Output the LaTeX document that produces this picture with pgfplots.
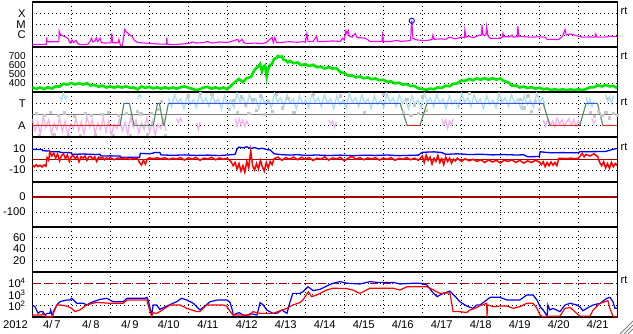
\documentclass[border=0pt]{standalone}
\usepackage{fontspec}
\setmainfont{Liberation Sans}
\usepackage{pgfplots}
\pgfplotsset{compat=1.18}
\definecolor{xmag}{RGB}{255,0,255}
\definecolor{swgreen}{RGB}{0,230,0}
\definecolor{cyanpt}{RGB}{168,224,247}
\definecolor{pinkpt}{RGB}{245,178,240}
\definecolor{graypt}{RGB}{200,200,200}
\definecolor{stepgreen}{RGB}{80,140,90}
\definecolor{stepblue}{RGB}{60,80,230}
\definecolor{stepred}{RGB}{225,40,40}
\definecolor{darkred}{RGB}{170,0,0}
\definecolor{midgray}{RGB}{128,128,128}
\newcommand\tickfont{\fontsize{11.2bp}{12bp}\selectfont}
\newcommand\smalltickfont{\fontsize{10bp}{10bp}\selectfont}
\pgfplotsset{
  panel/.style={
    at={(32.3bp,#1)}, anchor=north west, scale only axis,
    width=585bp, height=45bp,
    xmin=0, xmax=15, xtick={1,...,14}, xticklabels={},
    xmajorgrids, ymajorgrids,
    major tick length=0pt, minor tick length=0pt,
    grid style={black, line width=0.9bp, dash pattern=on 0.9bp off 3.1bp},
    axis line style={black, line width=1.3bp},
    yticklabel style={font=\tickfont, anchor=east, inner sep=0pt, xshift=-6.5bp},
  }
}
\begin{document}
\begin{tikzpicture}
\useasboundingbox (0,0) rectangle (633bp,-334bp);

% ---------- Panel 1: X-ray ----------
\begin{axis}[panel=-2bp, ymin=-7.12, ymax=-2.90,
  ytick={-6,-5,-4}, yticklabels={C,M,X}]
\addplot[xmag, line width=1.1bp] coordinates {
(0.00,-6.87)(0.36,-6.87)(0.37,-6.22)(0.38,-6.63)(0.68,-6.63)(0.69,-5.63)(0.72,-5.95)(0.80,-6.10)(0.85,-6.16)(0.92,-6.35)(0.97,-6.75)(1.02,-6.47)(1.06,-6.70)(1.12,-6.50)(1.18,-6.85)(1.30,-6.90)(1.43,-6.85)(1.48,-6.60)(1.52,-6.30)(1.55,-6.65)(1.61,-6.55)(1.64,-6.25)(1.68,-6.60)(1.74,-6.30)(1.77,-6.70)(1.86,-6.75)(2.02,-6.72)(2.04,-5.84)(2.06,-6.72)(2.20,-6.72)(2.22,-6.40)(2.24,-6.72)(2.27,-7.03)(2.31,-7.00)(2.37,-5.47)(2.41,-5.70)(2.47,-5.90)(2.55,-6.10)(2.62,-6.50)(2.70,-6.70)(2.89,-6.75)(3.09,-6.80)(3.27,-6.85)(3.44,-6.85)(3.45,-6.22)(3.46,-6.85)(3.60,-6.90)(3.80,-6.85)(4.00,-6.80)(4.10,-6.65)(4.20,-6.75)(4.40,-6.70)(4.50,-6.60)(4.60,-6.75)(4.80,-6.65)(5.00,-6.70)(5.10,-6.60)(5.27,-6.40)(5.30,-6.65)(5.38,-6.40)(5.42,-6.70)(5.50,-6.80)(5.70,-6.75)(5.90,-6.80)(6.00,-6.70)(6.15,-6.22)(6.18,-6.70)(6.22,-6.22)(6.26,-6.70)(6.40,-6.68)(6.60,-6.62)(6.80,-6.68)(6.94,-6.62)(7.00,-6.65)(7.04,-5.84)(7.07,-6.60)(7.20,-6.60)(7.29,-6.10)(7.32,-6.60)(7.50,-6.60)(7.70,-6.55)(7.90,-6.60)(7.95,-6.30)(8.00,-6.45)(8.04,-5.60)(8.07,-5.90)(8.10,-5.55)(8.13,-6.10)(8.20,-6.20)(8.28,-5.85)(8.32,-6.20)(8.40,-6.25)(8.55,-6.30)(8.66,-6.60)(8.97,-6.60)(8.98,-5.69)(9.00,-6.60)(9.20,-6.60)(9.35,-6.50)(9.45,-6.60)(9.60,-6.55)(9.70,-6.50)(9.73,-4.66)(9.76,-6.30)(9.85,-6.45)(10.00,-6.50)(10.15,-6.50)(10.25,-6.40)(10.27,-6.00)(10.30,-6.40)(10.50,-6.35)(10.60,-6.40)(10.70,-6.20)(10.85,-6.35)(10.95,-6.25)(11.00,-6.20)(11.08,-6.25)(11.09,-5.53)(11.12,-6.20)(11.20,-6.10)(11.30,-6.25)(11.40,-6.10)(11.48,-6.00)(11.52,-6.00)(11.53,-5.06)(11.56,-6.00)(11.63,-6.00)(11.65,-5.20)(11.68,-6.05)(11.74,-6.30)(11.85,-6.31)(11.99,-6.30)(12.05,-6.20)(12.07,-5.84)(12.09,-6.16)(12.25,-6.16)(12.30,-6.00)(12.33,-6.20)(12.44,-6.16)(12.45,-5.16)(12.48,-6.10)(12.60,-6.16)(12.80,-6.20)(13.00,-6.16)(13.15,-6.20)(13.20,-6.40)(13.50,-6.42)(13.60,-6.10)(13.66,-5.47)(13.69,-6.00)(13.80,-5.90)(13.90,-6.00)(14.00,-6.10)(14.10,-6.20)(14.30,-6.18)(14.43,-6.20)(14.45,-5.90)(14.48,-6.20)(14.70,-6.20)(14.80,-6.10)(15.00,-6.15)};
\addplot[only marks, mark=o, mark size=2.6bp, blue, mark options={line width=0.9bp}] coordinates {(9.73,-4.66)};
\end{axis}

% ---------- Panel 2: solar wind speed ----------
\begin{axis}[panel=-47bp, ymin=300, ymax=800,
  ytick={400,500,600,700}, yticklabels={400,500,600,700},
  yticklabel style={font=\smalltickfont}]
\addplot[swgreen, line width=2.6bp] coordinates {
(0.0,352)(0.1,335)(0.2,350)(0.3,332)(0.4,352)(0.5,338)(0.6,362)(0.7,360)(0.8,392)(0.9,382)(1.0,400)(1.1,384)(1.2,398)(1.3,383)(1.4,398)(1.5,372)(1.6,378)(1.7,358)(1.8,371)(1.9,350)(2.0,364)(2.1,348)(2.2,362)(2.3,349)(2.4,363)(2.5,348)(2.6,350)(2.7,330)(2.8,360)(2.9,346)(3.0,358)(3.1,340)(3.2,352)(3.3,336)(3.4,352)(3.5,338)(3.6,350)(3.7,337)(3.8,352)(3.9,362)(4.0,348)(4.1,336)(4.2,320)(4.3,332)(4.4,350)(4.5,356)(4.6,337)(4.7,352)(4.8,336)(4.9,350)(5.0,330)(5.1,372)(5.2,410)(5.3,445)(5.4,410)(5.5,455)(5.6,465)(5.7,545)(5.75,567)(5.8,582)(5.84,610)(5.89,529)(5.93,580)(5.97,595)(6.01,473)(6.04,548)(6.1,600)(6.15,615)(6.2,670)(6.25,675)(6.3,700)(6.35,688)(6.4,695)(6.45,655)(6.5,652)(6.55,630)(6.6,645)(6.7,620)(6.8,628)(6.9,598)(7.0,610)(7.1,588)(7.2,602)(7.3,575)(7.4,582)(7.5,560)(7.6,577)(7.7,560)(7.8,565)(7.9,520)(8.0,510)(8.1,482)(8.2,484)(8.3,463)(8.4,472)(8.5,452)(8.6,462)(8.7,442)(8.8,450)(8.9,430)(9.0,436)(9.1,413)(9.2,418)(9.3,396)(9.4,403)(9.5,382)(9.6,388)(9.7,366)(9.8,368)(9.9,340)(10.0,336)(10.1,322)(10.2,338)(10.3,330)(10.4,352)(10.5,346)(10.6,370)(10.7,364)(10.8,392)(10.9,395)(11.0,428)(11.1,424)(11.2,445)(11.3,430)(11.4,452)(11.5,436)(11.6,454)(11.7,436)(11.8,452)(11.9,437)(12.0,450)(12.1,420)(12.2,410)(12.3,370)(12.4,372)(12.5,350)(12.6,360)(12.7,344)(12.8,354)(12.9,337)(13.0,348)(13.1,330)(13.2,338)(13.3,322)(13.4,331)(13.5,320)(13.6,331)(13.7,319)(13.8,330)(13.9,320)(14.0,331)(14.1,320)(14.2,333)(14.3,352)(14.4,352)(14.5,375)(14.6,362)(14.7,378)(14.8,362)(14.9,368)(15.0,344)};
\end{axis}

% ---------- Panel 3: T / A ----------
\begin{axis}[panel=-92bp, ymin=-1.06, ymax=3.03,
  ytick={0,2}, yticklabels={A,T}]
% cyan cloud
\addplot[cyanpt, line width=1.3bp] coordinates {
(3.49,2.5)(3.57,1.7)(3.65,2.8)(3.73,2.0)(3.81,2.4)(3.89,1.5)(3.97,2.7)(4.05,1.9)(4.13,2.3)(4.21,1.6)(4.29,2.9)(4.37,2.1)(4.45,2.5)(4.53,1.7)(4.61,2.8)(4.69,2.0)(4.77,2.4)(4.85,1.5)(4.93,2.7)(5.01,1.9)(5.09,2.3)(5.17,1.6)(5.25,2.9)(5.33,2.1)(5.41,2.5)(5.49,1.7)(5.57,2.8)(5.65,2.0)(5.73,2.4)(5.81,1.5)(5.89,2.7)(5.97,1.9)(6.05,2.3)(6.13,1.6)(6.21,2.9)(6.29,2.1)(6.37,2.5)(6.45,1.7)(6.53,2.8)(6.61,2.0)(6.69,2.4)(6.77,1.5)(6.85,2.7)(6.93,1.9)(7.01,2.3)(7.09,1.6)(7.17,2.9)(7.25,2.1)(7.33,2.5)(7.41,1.7)(7.49,2.8)(7.57,2.0)(7.65,2.4)(7.73,1.5)(7.81,2.7)(7.89,1.9)(7.97,2.3)(8.05,1.6)(8.13,2.9)(8.21,2.1)(8.29,2.5)(8.37,1.7)(8.45,2.8)(8.53,2.0)(8.61,2.4)(8.69,1.5)(8.77,2.7)(8.85,1.9)(8.93,2.3)(9.01,1.6)(9.09,2.9)(9.17,2.1)(9.25,2.5)(9.33,1.7)(9.41,2.8)(9.49,2.0)(9.57,2.4)(9.65,1.5)(9.73,2.7)(9.81,1.9)(9.89,2.3)(9.97,1.6)(10.05,2.9)(10.13,2.1)(10.21,2.5)(10.29,1.7)(10.37,2.8)(10.45,2.0)(10.53,2.4)(10.61,1.5)(10.69,2.7)(10.77,1.9)(10.85,2.3)(10.93,1.6)(11.01,2.9)(11.09,2.1)(11.17,2.5)(11.25,1.7)(11.33,2.8)(11.41,2.0)(11.49,2.4)(11.57,1.5)(11.65,2.7)(11.73,1.9)(11.81,2.3)(11.89,1.6)(11.97,2.9)(12.05,2.1)(12.13,2.5)(12.21,1.7)(12.29,2.8)(12.37,2.0)(12.45,2.4)(12.53,1.5)(12.61,2.7)(12.69,1.9)(12.77,2.3)(12.85,1.6)(12.93,2.9)(13.01,2.1)(13.09,2.5)(13.15,1.8)};
\addplot[cyanpt, line width=1.3bp] coordinates {(0.70,2.6)(0.75,2.3)(0.80,2.9)(0.85,2.4)(0.90,2.7)};
\addplot[cyanpt, line width=1.3bp] coordinates {(2.70,2.4)(2.75,2.8)(2.80,2.5)};
\addplot[cyanpt, line width=1.3bp] coordinates {(14.20,2.6)(14.25,1.9)(14.30,2.4)(14.35,1.7)(14.40,2.2)};
\addplot[cyanpt, line width=1.3bp] coordinates {(14.70,2.8)(14.75,2.2)(14.80,2.6)(14.85,2.0)(14.90,2.7)};
% pink cloud
\addplot[pinkpt, line width=1.3bp] coordinates {
(0.00,0.6)(0.07,-0.5)(0.14,0.3)(0.21,-0.8)(0.28,0.8)(0.35,-0.2)(0.42,0.5)(0.49,-0.7)(0.56,0.2)(0.63,-0.4)(0.70,0.7)(0.77,-0.6)(0.84,0.4)(0.91,-0.9)(0.98,0.1)(1.05,-0.3)(1.12,0.6)(1.19,-0.5)(1.26,0.3)(1.33,-0.8)(1.40,0.8)(1.47,-0.2)(1.54,0.5)(1.61,-0.7)(1.68,0.2)(1.75,-0.4)(1.82,0.7)(1.89,-0.6)(1.96,0.4)(2.03,-0.9)(2.10,0.1)(2.17,-0.3)(2.24,0.6)(2.31,-0.5)(2.38,0.3)(2.45,-0.8)(2.52,0.8)(2.59,-0.2)(2.66,0.5)(2.73,-0.7)(2.80,0.2)(2.87,-0.4)(2.94,0.7)(3.01,-0.6)(3.08,0.4)(3.15,-0.9)(3.22,0.1)(3.29,-0.3)(3.36,0.6)(3.43,-0.5)};
\addplot[pinkpt, line width=1.3bp] coordinates {(3.70,0.6)(3.75,0.2)(3.80,0.65)(3.85,0.3)};
\addplot[pinkpt, line width=1.3bp] coordinates {(4.22,0.2)(4.26,-0.4)(4.30,0.3)};
\addplot[pinkpt, line width=1.3bp] coordinates {(5.20,0.6)(5.25,-0.1)(5.30,0.6)(5.35,0.1)(5.40,0.5)(5.45,-0.1)(5.50,0.4)(5.55,0.0)};
\addplot[pinkpt, line width=1.3bp] coordinates {(7.60,0.5)(7.65,0.1)(7.70,0.4)(7.75,-0.2)(7.80,0.3)};
\addplot[pinkpt, line width=1.3bp] coordinates {(10.50,0.6)(10.55,0.0)(10.60,0.5)(10.65,-0.3)(10.70,0.4)(10.75,0.1)(10.80,0.6)};
\addplot[pinkpt, line width=1.3bp] coordinates {(13.10,0.5)(13.16,-0.1)(13.22,0.6)(13.28,0.0)(13.34,0.4)(13.40,-0.15)(13.46,0.65)(13.52,0.1)(13.58,0.5)(13.64,-0.1)(13.70,0.3)(13.76,0.6)(13.82,0.0)(13.88,0.5)(13.94,-0.1)(14.00,0.4)(14.06,0.1)};
\addplot[pinkpt, line width=1.3bp] coordinates {(14.35,0.6)(14.40,0.2)(14.45,0.5)};
% gray points
\addplot[only marks, mark=square*, mark size=1.1bp, graypt, mark options={draw=graypt, fill=graypt}] coordinates {
(0.10,1.1)(0.18,-0.9)(0.30,0.9)(0.45,1.2)(0.55,-0.8)(0.66,0.9)(0.82,1.15)(0.93,-0.95)(1.08,0.85)(1.22,-0.9)(1.36,1.1)(1.50,0.95)(1.62,-0.85)(1.78,1.0)(1.95,1.2)(2.08,-0.9)(2.20,0.9)(2.40,1.1)(2.52,-0.95)(2.68,1.3)(2.78,1.05)(2.95,-0.8)(3.05,1.1)(3.22,1.5)(3.30,2.2)(3.40,-0.9)
(4.0,2.7)(4.3,2.9)(4.6,2.8)(5.05,1.5)(5.15,2.3)(5.25,1.2)(5.35,2.6)(5.45,1.8)(5.55,1.1)(5.65,2.4)(5.75,1.4)(5.85,2.7)(5.95,1.0)(6.05,2.2)(6.15,1.3)(6.25,2.8)(6.40,1.6)(6.55,2.5)(6.70,1.2)(7.2,2.8)(7.9,2.7)(8.5,1.2)(9.0,2.8)(9.50,1.2)(9.60,2.4)(9.70,0.9)(9.80,1.8)(9.90,1.1)(10.00,2.6)(10.10,1.4)(11.2,2.9)(12.5,2.4)(12.6,1.6)(12.7,2.7)(12.8,1.3)(12.9,2.2)(13.0,1.5)(14.3,1.2)(14.4,0.8)(14.5,1.3)(14.6,0.9)(14.7,1.2)(14.75,2.5)(14.8,0.7)(14.9,1.1)(15.0,0.9)};
% gray mid line
\addplot[midgray, line width=1.4bp] coordinates {(0,1)(15,1)};
% step line
\addplot[stepgreen, line width=1.1bp] coordinates {
(0,0)(2.25,0)(2.35,2)(2.49,2)(2.61,0)(3.10,0)(3.21,2)(3.26,2)(3.36,0)(3.38,0)(3.49,2)(9.43,2)(9.61,0)(9.94,0)(10.12,2)(13.10,2)(13.27,0)(14.04,0)(14.20,2)(14.49,2)(14.63,0)(15,0)};
\addplot[stepblue, line width=1.1bp] coordinates {(2.35,2)(2.49,2)};
\addplot[stepblue, line width=1.1bp] coordinates {(3.21,2)(3.26,2)};
\addplot[stepblue, line width=1.1bp] coordinates {(3.49,2)(9.43,2)};
\addplot[stepblue, line width=1.1bp] coordinates {(10.12,2)(13.10,2)};
\addplot[stepblue, line width=1.1bp] coordinates {(14.20,2)(14.49,2)};
\addplot[stepred, line width=1.1bp] coordinates {(0,0)(2.25,0)};
\addplot[stepred, line width=1.1bp] coordinates {(9.61,0)(9.94,0)};
\addplot[stepred, line width=1.1bp] coordinates {(13.27,0)(14.04,0)};
\addplot[stepred, line width=1.1bp] coordinates {(14.63,0)(15,0)};
\end{axis}

% ---------- Panel 4: IMF ----------
\begin{axis}[panel=-137bp, ymin=-21.0, ymax=20.5,
  ytick={-10,0,10}, yticklabels={-10,0,10}]
\addplot[darkred, line width=1.2bp] coordinates {(0,0)(15,0)};
\addplot[blue, line width=1.3bp] coordinates {
(0,9.1)(0.25,9.0)(0.27,7.8)(0.45,7.6)(0.46,6.9)(0.70,7.0)(0.71,6.3)(1.00,6.0)(1.02,4.5)(1.30,4.8)(1.60,4.4)(1.74,4.5)(1.76,2.9)(2.00,3.1)(2.25,2.9)(2.27,1.7)(2.50,1.9)(2.75,1.7)(2.77,5.4)(3.00,5.0)(3.10,5.6)(3.12,6.3)(3.27,6.3)(3.30,4.0)(3.60,3.6)(3.90,4.0)(4.20,3.5)(4.50,3.8)(4.80,3.4)(5.00,3.9)(5.20,4.5)(5.25,9.5)(5.30,11.2)(5.40,10.5)(5.50,11.5)(5.60,9.8)(5.70,10.8)(5.80,9.5)(5.90,10.2)(6.00,9.0)(6.10,8.5)(6.20,5.0)(6.40,4.2)(6.60,3.8)(6.80,4.2)(7.00,3.5)(7.30,3.9)(7.60,3.4)(7.90,3.8)(8.20,3.2)(8.50,3.7)(8.80,3.5)(9.10,3.9)(9.40,3.3)(9.70,3.6)(9.90,3.8)(10.00,6.4)(10.30,6.8)(10.50,6.2)(10.60,4.5)(10.90,5.0)(11.20,4.3)(11.50,4.6)(11.80,4.0)(12.10,4.3)(12.40,3.9)(12.60,4.1)(12.70,2.3)(13.00,2.5)(13.02,6.9)(13.20,6.2)(13.30,6.0)(13.60,6.1)(14.00,5.9)(14.04,6.9)(14.40,7.0)(14.70,7.2)(14.80,8.2)(14.90,9.2)(15.00,10.0)};
\addplot[red, line width=1.5bp] coordinates {
(0,-5.5)(0.05,-7.0)(0.10,-5.0)(0.15,-6.8)(0.20,-5.5)(0.25,-7.2)(0.30,-5.2)(0.35,-6.5)(0.38,1.5)(0.42,-1.0)(0.45,6.9)(0.50,3.0)(0.55,5.5)(0.60,1.0)(0.65,4.8)(0.70,-1.5)(0.75,3.5)(0.80,5.0)(0.85,0.5)(0.90,4.0)(0.95,-2.0)(1.00,2.5)(1.05,3.5)(1.10,0.5)(1.15,2.8)(1.20,-2.3)(1.25,2.5)(1.30,1.0)(1.35,3.0)(1.40,-1.0)(1.45,2.2)(1.50,2.6)(1.55,0.0)(1.60,2.4)(1.65,-2.0)(1.70,2.0)(1.75,0.8)(1.80,1.8)(1.85,-0.5)(1.90,1.2)(1.95,0.4)(2.00,1.5)(2.10,-0.5)(2.20,1.2)(2.30,0.3)(2.40,1.4)(2.50,-0.2)(2.60,1.0)(2.70,0.5)(2.75,-3.0)(2.80,-5.3)(2.85,-1.0)(2.90,-4.5)(2.95,0.2)(3.00,1.2)(3.10,0.5)(3.20,1.3)(3.30,0.4)(3.40,1.4)(3.50,-0.3)(3.60,1.0)(3.70,0.2)(3.80,1.5)(3.90,-0.8)(4.00,1.2)(4.10,0.0)(4.20,1.6)(4.30,-1.0)(4.40,1.0)(4.50,0.3)(4.60,1.8)(4.70,-0.5)(4.80,1.2)(4.90,0.0)(5.00,1.0)(5.10,-2.5)(5.15,-6.0)(5.20,-3.0)(5.25,-9.0)(5.30,-4.0)(5.35,-11.0)(5.40,-6.0)(5.45,-12.0)(5.50,-2.0)(5.55,-8.0)(5.60,8.0)(5.65,-6.0)(5.70,-10.0)(5.75,-4.0)(5.80,-9.0)(5.85,-1.0)(5.90,-7.0)(5.95,-11.0)(6.00,-3.0)(6.05,-8.0)(6.10,-2.0)(6.15,-5.0)(6.20,0.5)(6.30,2.0)(6.40,-1.0)(6.50,1.5)(6.60,0.0)(6.70,2.0)(6.80,-0.5)(6.90,1.8)(7.00,0.2)(7.10,1.5)(7.20,-1.2)(7.30,1.0)(7.40,0.0)(7.50,2.2)(7.60,-0.8)(7.70,1.2)(7.80,0.3)(7.90,1.8)(8.00,-1.5)(8.10,1.0)(8.20,2.5)(8.30,0.0)(8.40,1.5)(8.50,-0.5)(8.60,1.2)(8.70,0.2)(8.80,1.5)(8.90,-0.8)(9.00,1.0)(9.10,0.0)(9.20,1.6)(9.30,-1.0)(9.40,0.8)(9.50,0.0)(9.60,1.5)(9.70,-0.5)(9.80,1.0)(9.90,-1.0)(10.00,3.0)(10.05,-3.0)(10.10,4.0)(10.15,-1.0)(10.20,2.0)(10.25,-4.5)(10.30,1.0)(10.35,-2.0)(10.40,3.5)(10.45,-3.0)(10.50,0.5)(10.55,-5.0)(10.60,2.0)(10.65,-2.0)(10.70,1.0)(10.75,-3.5)(10.80,0.0)(10.85,-1.5)(10.90,1.0)(11.00,-2.0)(11.10,0.5)(11.20,-1.5)(11.30,0.0)(11.40,-2.0)(11.50,-0.5)(11.60,-3.0)(11.70,-0.7)(11.80,-2.5)(11.90,-1.0)(12.00,-3.4)(12.10,-1.0)(12.20,-2.0)(12.30,-0.5)(12.40,-3.0)(12.50,-1.0)(12.60,-3.6)(12.70,-1.5)(12.80,-3.0)(12.90,-1.0)(13.00,-2.5)(13.05,-5.0)(13.10,-2.3)(13.15,-6.9)(13.20,-3.0)(13.25,-6.0)(13.30,-2.5)(13.35,-5.5)(13.40,-3.0)(13.45,-6.0)(13.50,0.8)(13.60,0.8)(13.70,0.5)(13.80,1.0)(13.90,0.6)(14.00,0.8)(14.05,3.0)(14.10,5.4)(14.15,2.3)(14.20,4.5)(14.30,3.0)(14.40,5.0)(14.50,2.5)(14.55,-3.0)(14.60,-6.0)(14.65,-2.3)(14.70,-8.0)(14.75,-4.0)(14.80,-8.4)(14.85,-3.0)(14.90,-7.0)(14.95,-4.0)(15.00,-6.0)};
\end{axis}

% ---------- Panel 5: Dst ----------
\begin{axis}[panel=-182bp, ymin=-200, ymax=100,
  ytick={-100,0}, yticklabels={-100,0}]
\addplot[darkred, line width=1.2bp] coordinates {(0,0)(15,0)};
\end{axis}

% ---------- Panel 6 ----------
\begin{axis}[panel=-227bp, ymin=0, ymax=78,
  ytick={20,40,60}, yticklabels={20,40,60}]
\end{axis}

% ---------- Panel 7: electron flux ----------
\begin{axis}[panel=-272bp, ymode=log, ymin=10, ymax=100000,
  ytick={100,1000,10000}, minor ytick={},
  yticklabels={10\textsuperscript{2},10\textsuperscript{3},10\textsuperscript{4}},
  extra x ticks={0.5,1.5,2.5,3.5,4.5,5.5,6.5,7.5,8.5,9.5,10.5,11.5,12.5,13.5,14.5},
  extra x tick labels={{4/\,7},{4/\,8},{4/\,9},4/10,4/11,4/12,4/13,4/14,4/15,4/16,4/17,4/18,4/19,4/20,4/21},
  extra x tick style={grid=none, major tick length=0pt,
    xticklabel style={font=\tickfont, anchor=north, inner sep=0pt, yshift=-3.5bp}}]
\addplot[darkred, line width=1.2bp, dash pattern=on 8bp off 5bp] coordinates {(0,10000)(15,10000)};
\addplot[blue, line width=1.2bp] coordinates {
(0.00,117)(0.07,82)(0.15,21)(0.20,30)(0.27,30)(0.33,15)(0.38,21)(0.45,21)(0.47,42)(0.52,10)(0.54,30)(0.63,117)(0.71,230)(0.88,325)(0.97,325)(1.01,460)(1.14,166)(1.31,166)(1.39,117)(1.56,230)(1.74,370)(1.91,460)(2.07,230)(2.33,230)(2.43,460)(2.90,460)(2.94,560)(2.97,325)(3.02,59)(3.06,15)(3.10,117)(3.19,117)(3.27,48)(3.45,95)(3.70,230)(3.83,460)(3.96,325)(4.13,166)(4.30,42)(4.38,70)(4.56,230)(4.74,325)(4.99,325)(5.07,200)(5.14,30)(5.15,15)(5.30,25)(5.45,12)(5.60,20)(5.76,15)(5.84,190)(5.92,120)(6.01,42)(6.17,21)(6.27,21)(6.40,42)(6.53,21)(6.61,230)(6.68,1260)(6.86,1260)(6.94,1780)(7.07,4900)(7.20,2200)(7.38,2900)(7.55,5700)(7.71,10000)(7.89,14000)(8.07,10000)(8.40,8600)(8.66,14000)(8.84,12000)(9.25,12000)(9.43,8600)(9.76,10000)(9.94,10000)(10.12,7000)(10.25,1780)(10.38,640)(10.53,1260)(10.71,2000)(10.84,700)(10.96,230)(11.14,95)(11.30,59)(11.40,120)(11.48,117)(11.65,325)(11.74,560)(11.99,560)(12.17,325)(12.50,325)(12.68,900)(12.84,900)(12.94,325)(13.02,82)(13.10,42)(13.20,12)(13.22,117)(13.27,42)(13.35,59)(13.53,30)(13.66,117)(13.79,166)(13.96,117)(14.04,82)(14.12,36)(14.22,59)(14.38,117)(14.56,166)(14.73,460)(14.81,560)(14.89,230)(14.94,59)(15.00,59)};
\addplot[red, line width=1.2bp] coordinates {
(0.00,15)(0.25,15)(0.26,21)(0.38,10)(0.51,10)(0.54,21)(0.63,117)(0.71,117)(0.88,95)(1.01,59)(1.09,30)(1.22,42)(1.39,117)(1.65,200)(1.99,166)(2.33,166)(2.43,325)(2.94,325)(2.97,117)(3.06,12)(3.10,24)(3.19,21)(3.27,30)(3.53,117)(3.79,117)(3.96,59)(4.22,30)(4.30,30)(4.47,117)(4.89,117)(4.98,95)(5.11,21)(5.15,15)(5.58,15)(5.66,30)(5.84,21)(6.17,21)(6.53,59)(6.68,117)(6.86,190)(6.94,320)(7.08,1780)(7.16,640)(7.29,900)(7.55,2500)(7.71,3600)(8.06,3400)(8.22,2500)(8.40,1260)(8.66,3600)(9.25,3600)(9.43,2500)(9.61,4900)(10.12,4900)(10.20,3600)(10.45,1260)(10.71,1400)(10.79,30)(10.96,30)(11.14,25)(11.22,42)(11.35,59)(11.48,100)(11.65,166)(11.66,10)(11.67,120)(11.82,82)(11.99,95)(12.17,95)(12.33,59)(12.50,82)(12.68,166)(12.84,166)(12.94,59)(13.02,15)(13.10,10)(13.20,12)(13.53,12)(13.66,59)(13.79,70)(13.96,21)(14.04,12)(14.30,12)(14.38,42)(14.56,166)(14.76,280)(14.81,59)(14.89,12)(14.94,10)(15.00,10)};
\end{axis}

% ---------- labels outside the axes ----------
\node[font=\tickfont, inner sep=0pt] at (15.5bp,-325bp) {2012};
\foreach \yy in {10.7,56,101.5,146.5,280}{
  \node[font=\fontsize{11bp}{12bp}\selectfont, inner sep=0pt] at (624bp,-\yy bp) {rt};
}
\foreach \d in {0,4,8}{
  \draw[gray, line width=0.8bp] (633bp,{-(321+\d)*1bp}) -- ({(633-13+\d)*1bp},-334bp);
}
\end{tikzpicture}
\end{document}
